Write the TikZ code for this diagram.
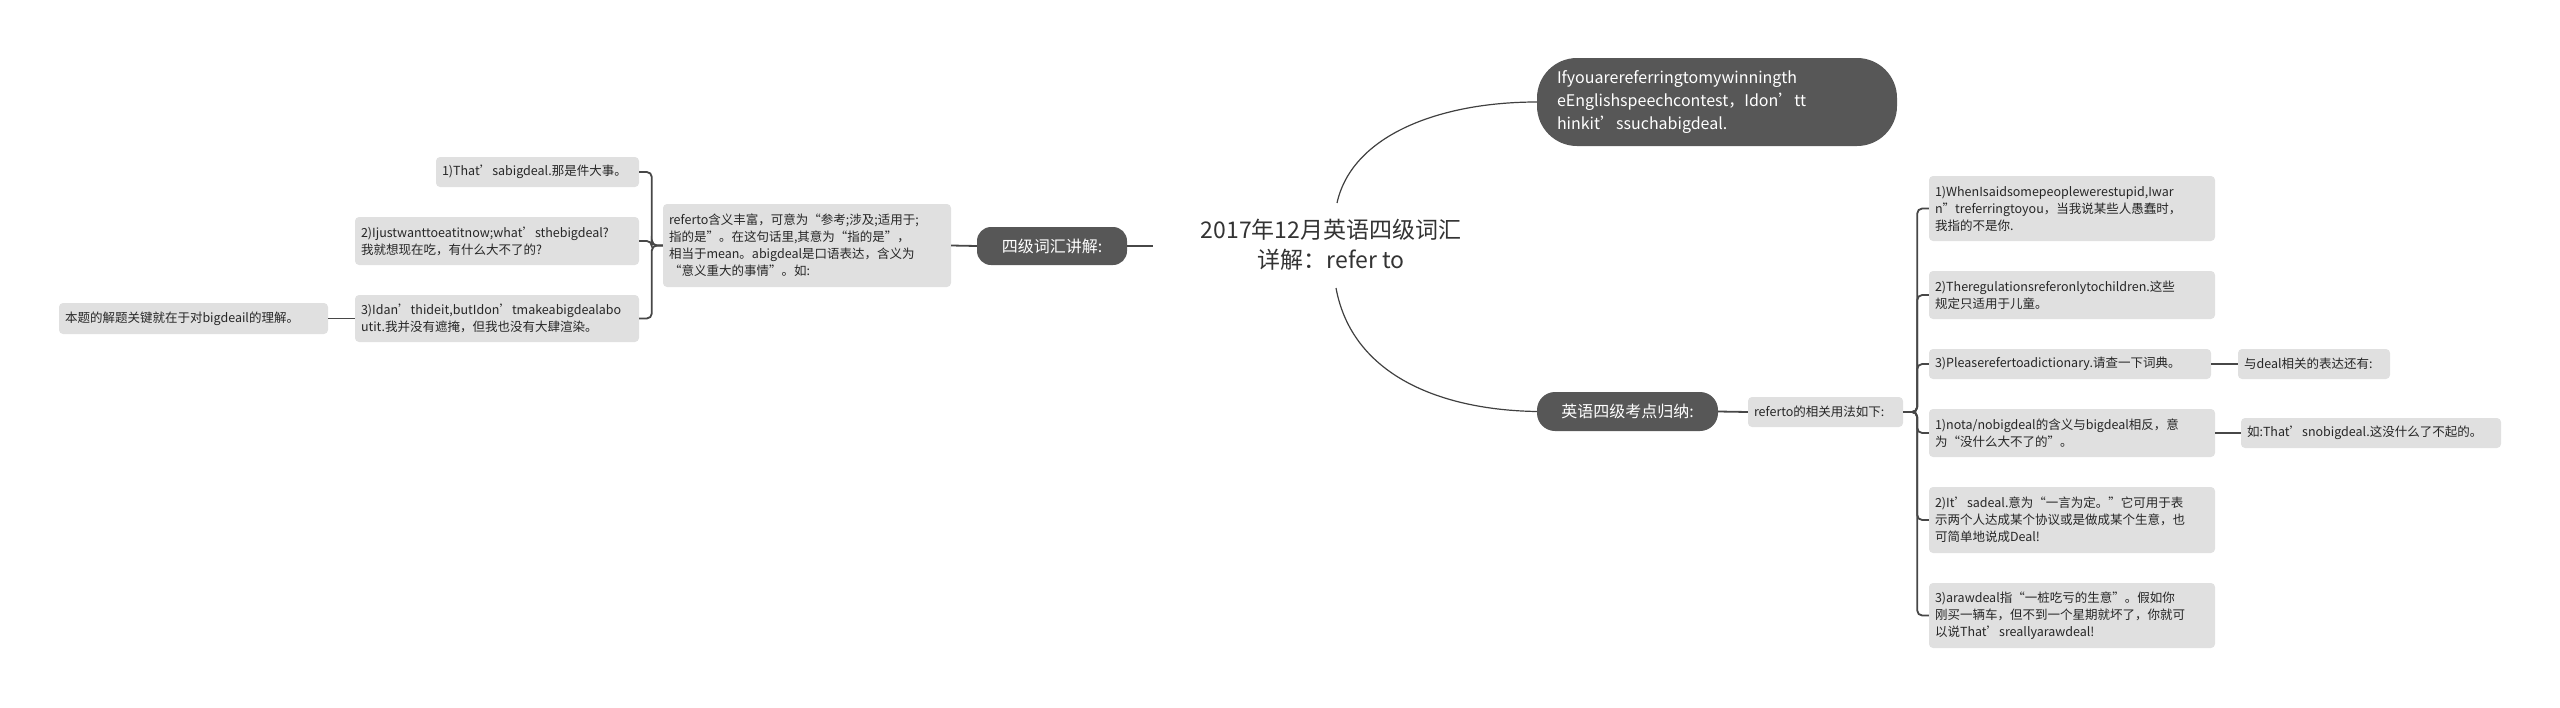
\documentclass[tikz,border=0pt]{standalone}
\usepackage{fontspec}
\setmainfont{Noto Sans CJK SC}
\begin{document}
\begin{tikzpicture}[x=1pt,y=-1pt,
  lbox/.style={fill=black!12,rounded corners=4pt,align=left,inner xsep=6pt,inner ysep=2pt,font=\fontsize{12.5}{17}\selectfont,text=black!85},
  dbox/.style={fill=black!66,rounded corners=18pt,align=left,inner xsep=10pt,text=white,font=\fontsize{16}{23}\selectfont},
  conn/.style={draw=black!72,line width=1.8pt,rounded corners=5pt},
  curv/.style={draw=black!75,line width=1.2pt}]
\useasboundingbox (0,0) rectangle (2560,707);
\node[font=\fontsize{23}{30}\selectfont,align=center,text=black!80] (title) at (1331,245) {2017年12月英语四级词汇\\详解：refer to};
\coordinate (ta) at (1337,203);
\coordinate (tb) at (1336,288);
\coordinate (tl) at (1153,246);
% left
\node[dbox,rounded corners=14pt,align=center,text width=130,minimum height=38] (ld) at (1052,246) {四级词汇讲解:};
\node[lbox,text width=276,minimum height=83] (rf) at (807,245.5) {referto含义丰富，可意为“参考;涉及;适用于;\\指的是”。在这句话里,其意为“指的是”，\\相当于mean。abigdeal是口语表达，含义为\\“意义重大的事情”。如:};
\node[lbox,text width=191,minimum height=30] (l1) at (537.5,172) {1)That'sabigdeal.那是件大事。};
\node[lbox,text width=272,minimum height=48] (l2) at (497,241) {2)Ijustwanttoeatitnow;what'sthebigdeal?\\我就想现在吃，有什么大不了的?};
\node[lbox,text width=272,minimum height=47] (l3) at (497,318.5) {3)Idan'thideit,butIdon'tmakeabigdealabo\\utit.我并没有遮掩，但我也没有大肆渲染。};
\node[lbox,text width=257,minimum height=31] (lf) at (193.5,318.5) {本题的解题关键就在于对bigdeail的理解。};
% right
\node[dbox,rounded corners=40pt,text width=320,minimum height=88,inner xsep=20pt] (td) at (1717,102) {Ifyouarereferringtomywinningth\\eEnglishspeechcontest，Idon'tt\\hinkit'ssuchabigdeal.};
\node[dbox,align=center,text width=161,minimum height=39] (bd) at (1627.5,411.5) {英语四级考点归纳:};
\node[lbox,text width=143,minimum height=30] (ru) at (1825.5,412) {referto的相关用法如下:};
\node[lbox,text width=274,minimum height=65] (r1) at (2072,208.5) {1)WhenIsaidsomepeoplewerestupid,Iwar\\n"treferringtoyou，当我说某些人愚蠢时，\\我指的不是你.};
\node[lbox,text width=274,minimum height=48] (r2) at (2072,295) {2)Theregulationsreferonlytochildren.这些\\规定只适用于儿童。};
\node[lbox,text width=270,minimum height=30] (r3) at (2070,364) {3)Pleaserefertoadictionary.请查一下词典。};
\node[lbox,text width=140,minimum height=30] (r3l) at (2314,364) {与deal相关的表达还有:};
\node[lbox,text width=274,minimum height=48] (r4) at (2072,433) {1)nota/nobigdeal的含义与bigdeal相反，意\\为“没什么大不了的”。};
\node[lbox,text width=248,minimum height=30] (r4l) at (2371,433) {如:That'snobigdeal.这没什么了不起的。};
\node[lbox,text width=274,minimum height=66] (r5) at (2072,520) {2)It'sadeal.意为“一言为定。”它可用于表\\示两个人达成某个协议或是做成某个生意，也\\可简单地说成Deal!};
\node[lbox,text width=274,minimum height=65] (r6) at (2072,615.5) {3)arawdeal指“一桩吃亏的生意”。假如你\\刚买一辆车，但不到一个星期就坏了，你就可\\以说That'sreallyarawdeal!};
% connectors
\draw[curv] (ta) .. controls (1352,135) and (1440,102) .. (td.west);
\draw[curv] (tb) .. controls (1352,375) and (1440,410) .. (bd.west);
\draw[conn] (ld.east) -- (tl);
\draw[conn] (ld.west) -- (rf.east);
\foreach \c in {l1,l2,l3} \draw[conn] (rf.west) -- ++(-11,0) |- (\c.east);
\draw[conn] (l3.west) -- (lf.east);
\draw[conn] (bd.east) -- (ru.west);
\foreach \c in {r1,r2,r3,r4,r5,r6} \draw[conn] (ru.east) -- ++(14,0) |- (\c.west);
\draw[conn] (r3.east) -- (r3l.west);
\draw[conn] (r4.east) -- (r4l.west);
\end{tikzpicture}
\end{document}
